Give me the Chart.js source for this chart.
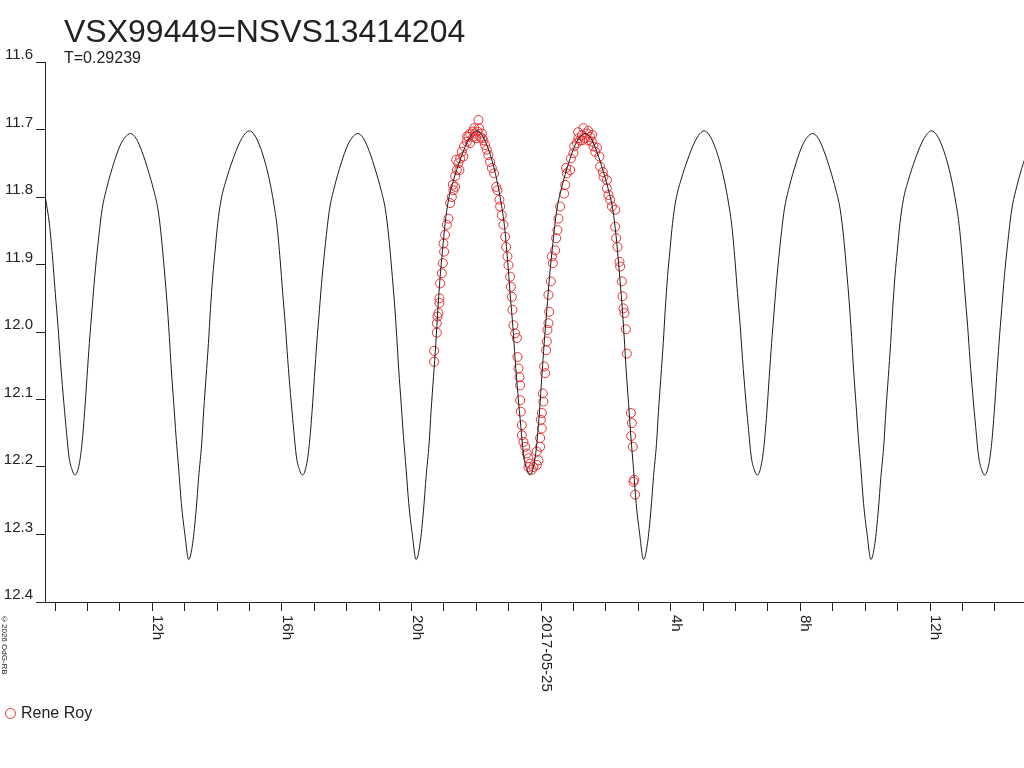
<!DOCTYPE html>
<html lang="en">
<head>
    <meta charset="UTF-8">
    <title>VSX99449=NSVS13414204</title>
    <script src="https://cdn.jsdelivr.net/npm/chart.js"></script>
    <style>
        body {
            margin: 0;
            background: #fff;
            font-family: "Liberation Sans", Arial, sans-serif;
            color: #222;
        }
        .wrap {
            position: relative;
            width: 1024px;
            height: 768px;
            overflow: hidden;
        }
        #lc {
            position: absolute;
            left: 0;
            top: 0;
        }
        .title {
            position: absolute;
            left: 64px;
            top: 15px;
            font-size: 32px;
            line-height: 32px;
            white-space: nowrap;
        }
        .period {
            position: absolute;
            left: 64px;
            top: 50px;
            font-size: 16px;
            line-height: 16px;
        }
        .copy {
            position: absolute;
            left: 0px;
            top: 615px;
            font-size: 8px;
            line-height: 9px;
            writing-mode: vertical-rl;
            white-space: nowrap;
        }
        .legend {
            position: absolute;
            left: 5px;
            top: 704px;
            font-size: 16px;
            line-height: 18px;
            white-space: nowrap;
        }
        .legend .dot {
            display: inline-block;
            width: 9px;
            height: 9px;
            border: 1px solid rgb(232, 48, 52);
            border-radius: 50%;
            margin-right: 5px;
            vertical-align: -1px;
        }
    </style>
</head>
<body>
<div class="wrap">
    <canvas id="lc" width="1024" height="768"></canvas>
    <div class="title">VSX99449=NSVS13414204</div>
    <div class="period">T=0.29239</div>
    <div class="copy">©2026 OdG-RB</div>
    <div class="legend"><span class="dot"></span>Rene Roy</div>
</div>

<script>
    // time axis: hours from 2017-05-25 00:00
    const xMin = -15.31;
    const xMax = 14.9;
    const periodDays = 0.29239;
    const epochH = -3.858;   // a primary minimum on the plot

    // x tick labels, every 4 hours
    const xLabelHours = [-12, -8, -4, 0, 4, 8, 12];
    const xLabelTexts = ['12h', '16h', '20h', '2017-05-25', '4h', '8h', '12h'];

    // model light curve, one cycle, hours after primary minimum
    const curvePhaseH = [
        0, 0.123, 0.228, 0.309, 0.401, 0.463, 0.537, 0.608, 0.670, 0.741,
        0.815, 0.895, 1.000, 1.154, 1.358, 1.565, 1.741, 1.873, 2.028, 2.182,
        2.336, 2.491, 2.623, 2.728, 2.821, 2.901, 2.985, 3.056, 3.139, 3.231,
        3.324, 3.417, 3.509, 3.642, 3.725, 3.809, 3.880, 3.951, 4.034, 4.117,
        4.219, 4.343, 4.497, 4.704, 4.907, 5.062, 5.216, 5.392, 5.577, 5.762,
        5.938, 6.071, 6.173, 6.265, 6.349, 6.420, 6.481, 6.556, 6.627, 6.710,
        6.790, 6.895
    ];
    const curveMag = [
        12.337, 12.313, 12.264, 12.214, 12.165, 12.116, 12.066, 12.017, 11.967, 11.918,
        11.879, 11.839, 11.804, 11.775, 11.745, 11.720, 11.706, 11.702, 11.708, 11.723,
        11.745, 11.775, 11.809, 11.844, 11.893, 11.943, 11.992, 12.041, 12.091, 12.140,
        12.185, 12.204, 12.212, 12.195, 12.165, 12.116, 12.066, 12.017, 11.967, 11.918,
        11.869, 11.819, 11.785, 11.750, 11.723, 11.711, 11.706, 11.713, 11.733, 11.760,
        11.790, 11.819, 11.859, 11.908, 11.957, 12.007, 12.056, 12.106, 12.155, 12.204,
        12.254, 12.298
    ];

    // observations (Rene Roy)
    const obsTimeH = [
        -3.302, -3.302, -3.219, -3.219, -3.201, -3.170, -3.139, -3.139, -3.117, -3.065,
        -3.034, -3.015, -2.994, -2.963, -2.910, -2.861, -2.809, -2.756, -2.725, -2.707,
        -2.654, -2.654, -2.623, -2.602, -2.552, -2.522, -2.500, -2.448, -2.398, -2.377,
        -2.293, -2.284, -2.244, -2.191, -2.191, -2.108, -2.090, -2.068, -2.037, -2.006,
        -1.966, -1.935, -1.914, -1.883, -1.830, -1.821, -1.781, -1.728, -1.676, -1.627,
        -1.574, -1.522, -1.451, -1.389, -1.349, -1.287, -1.265, -1.213, -1.164, -1.111,
        -1.080, -1.040, -1.009, -0.957, -0.935, -0.904, -0.886, -0.855, -0.802, -0.750,
        -0.731, -0.701, -0.670, -0.648, -0.648, -0.627, -0.596, -0.596, -0.546, -0.494,
        -0.441, -0.392, -0.392, -0.340, -0.287, -0.238, -0.133, -0.133, -0.083, -0.031,
        -0.031, -0.009, 0.022, 0.022, 0.052, 0.071, 0.093, 0.123, 0.154, 0.176,
        0.194, 0.225, 0.225, 0.247, 0.299, 0.330, 0.361, 0.432, 0.463, 0.503,
        0.534, 0.586, 0.710, 0.741, 0.772, 0.793, 0.895, 0.917, 0.997, 1.019,
        1.102, 1.142, 1.151, 1.204, 1.256, 1.265, 1.306, 1.358, 1.410, 1.451,
        1.460, 1.512, 1.565, 1.574, 1.614, 1.667, 1.728, 1.799, 1.821, 1.904,
        1.923, 2.028, 2.028, 2.077, 2.130, 2.182, 2.284, 2.284, 2.315, 2.355,
        2.417, 2.438, 2.491, 2.509, 2.540, 2.571, 2.614, 2.645, 2.769, 2.799,
        2.778, 2.830, 2.870, 2.849, 2.901
    ];
    const obsMag = [
        12.044, 12.028, 12.001, 11.987, 11.977, 11.972, 11.957, 11.950, 11.928, 11.913,
        11.898, 11.869, 11.881, 11.856, 11.841, 11.832, 11.809, 11.800, 11.782, 11.790,
        11.785, 11.769, 11.745, 11.760, 11.750, 11.760, 11.743, 11.733, 11.740, 11.725,
        11.718, 11.710, 11.711, 11.706, 11.720, 11.703, 11.711, 11.698, 11.706, 11.713,
        11.703, 11.686, 11.698, 11.711, 11.706, 11.713, 11.716, 11.723, 11.730, 11.738,
        11.748, 11.757, 11.765, 11.785, 11.790, 11.804, 11.814, 11.827, 11.841, 11.859,
        11.874, 11.888, 11.901, 11.918, 11.933, 11.948, 11.967, 11.990, 12.002, 12.009,
        12.037, 12.054, 12.067, 12.079, 12.101, 12.118, 12.138, 12.153, 12.163, 12.170,
        12.180, 12.187, 12.200, 12.195, 12.204, 12.200, 12.197, 12.177, 12.190, 12.170,
        12.157, 12.130, 12.143, 12.120, 12.091, 12.103, 12.051, 12.061, 12.027, 12.014,
        11.997, 11.987, 11.945, 11.970, 11.925, 11.888, 11.898, 11.879, 11.861, 11.849,
        11.832, 11.814, 11.795, 11.782, 11.757, 11.765, 11.760, 11.743, 11.735, 11.725,
        11.720, 11.704, 11.713, 11.716, 11.708, 11.716, 11.698, 11.713, 11.706, 11.702,
        11.716, 11.711, 11.718, 11.708, 11.725, 11.733, 11.727, 11.740, 11.755, 11.763,
        11.770, 11.775, 11.787, 11.797, 11.804, 11.814, 11.819, 11.844, 11.861, 11.874,
        11.896, 11.903, 11.925, 11.947, 11.965, 11.972, 11.996, 12.032, 12.120, 12.135,
        12.154, 12.170, 12.219, 12.222, 12.241
    ];

    const yTickMin = 11.6;
    const yTickMax = 12.4;

    // repeat the one-cycle curve over the whole time range
    const periodH = periodDays * 24;
    let curvePts = [];
    for (let k = -3; k <= 3; k++) {
        for (let i = 0; i < curvePhaseH.length; i++) {
            let t = epochH + k * periodH + curvePhaseH[i];
            if (t > xMin - periodH && t < xMax + periodH) {
                curvePts.push({x: t, y: curveMag[i]});
            }
        }
    }
    let obsPts = obsTimeH.map((t, i) => ({x: t, y: obsMag[i]}));

    const ink = '#222';
    const red = 'rgb(232, 48, 52)';

    // x labels are written top-to-bottom, so draw them by hand
    const xLabelPlugin = {
        id: 'xLabels',
        afterDraw(chart) {
            const ctx = chart.ctx;
            const sx = chart.scales.x;
            ctx.save();
            ctx.fillStyle = ink;
            ctx.font = '15px "Liberation Sans", Arial, sans-serif';
            ctx.textAlign = 'left';
            ctx.textBaseline = 'alphabetic';
            xLabelHours.forEach((h, i) => {
                const px = sx.getPixelForValue(h);
                ctx.save();
                ctx.translate(px, 615);
                ctx.rotate(Math.PI / 2);
                ctx.fillText(xLabelTexts[i], 0, -1);
                ctx.restore();
            });
            ctx.restore();
        }
    };

    const ctx = document.getElementById('lc').getContext('2d');
    const lc = new Chart(ctx, {
        type: 'scatter',
        data: {
            datasets: [
                {
                    label: 'model',
                    data: curvePts,
                    showLine: true,
                    borderColor: '#1a1a1a',
                    borderWidth: 1,
                    pointRadius: 0,
                    cubicInterpolationMode: 'monotone',
                    order: 0
                },
                {
                    label: 'Rene Roy',
                    data: obsPts,
                    showLine: false,
                    pointStyle: 'circle',
                    pointRadius: 4.5,
                    borderWidth: 1,
                    borderColor: red,
                    backgroundColor: 'rgba(0,0,0,0)',
                    order: 1
                }
            ]
        },
        options: {
            responsive: false,
            animation: false,
            devicePixelRatio: 1,
            layout: {
                autoPadding: false,
                padding: { top: 62, left: 0, right: 0, bottom: 0 }
            },
            plugins: {
                legend: { display: false },
                title: { display: false },
                tooltip: { enabled: false }
            },
            scales: {
                x: {
                    type: 'linear',
                    min: xMin,
                    max: xMax,
                    // one tick per whole hour
                    afterBuildTicks: s => {
                        let hours = [];
                        for (let h = Math.ceil(s.min); h <= Math.floor(s.max); h++) {
                            hours.push({value: h});
                        }
                        s.ticks = hours;
                    },
                    afterFit: s => { s.height = 166; },
                    ticks: { stepSize: 1, display: false },
                    grid: {
                        drawOnChartArea: false,
                        drawTicks: true,
                        tickLength: 9,
                        color: ink
                    },
                    border: { color: ink, width: 1 }
                },
                y: {
                    type: 'linear',
                    reverse: true,
                    min: yTickMin,
                    max: yTickMax,
                    afterFit: s => { s.width = 45; },
                    ticks: {
                        stepSize: 0.1,
                        color: ink,
                        padding: 3,
                        labelOffset: -7,
                        font: { family: '"Liberation Sans", Arial, sans-serif', size: 15 },
                        callback: v => v.toFixed(1)
                    },
                    grid: {
                        drawOnChartArea: false,
                        drawTicks: true,
                        tickLength: 9,
                        color: ink
                    },
                    border: { color: ink, width: 1 }
                }
            }
        },
        plugins: [xLabelPlugin]
    });
</script>
</body>
</html>
